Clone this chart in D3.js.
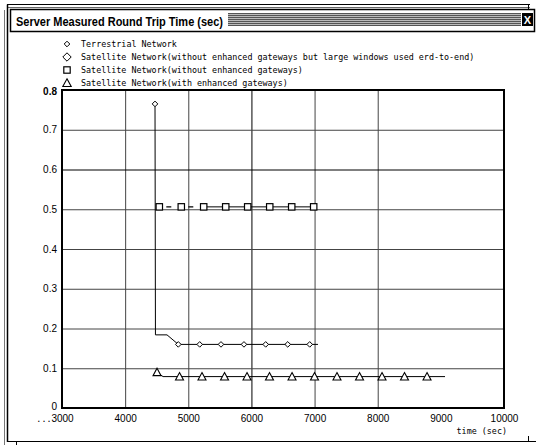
<!DOCTYPE html>
<html>
<head>
<meta charset="utf-8">
<script src="https://cdn.jsdelivr.net/npm/d3@7"></script>
<style>
  html, body { margin: 0; padding: 0; background: #fff; }
  svg { display: block; }
</style>
</head>
<body>
<svg id="chart" width="536" height="445"></svg>
<script>
// ---------------- data ----------------
const titleText = "Server Measured Round Trip Time (sec)";
const legendLabels = [
  "Terrestrial Network",
  "Satellite Network(without enhanced gateways but large windows used erd-to-end)",
  "Satellite Network(without enhanced gateways)",
  "Satellite Network(with enhanced gateways)"
];
const xAxisLabel = "time (sec)";
const xTickValues = [3000, 4000, 5000, 6000, 7000, 8000, 9000, 10000];
const xGridValues = [4000, 5000, 6000, 7000, 8000];
const yTickValues = [0, 0.1, 0.2, 0.3, 0.4, 0.5, 0.6, 0.7, 0.8];
const yGridValues = [0.1, 0.2, 0.3, 0.4, 0.5, 0.6, 0.7];

// Terrestrial Network (small diamonds)
const terrTime  = [4473, 4480, 4663, 4842, 5181, 5518, 5882, 6226, 6575, 6923, 7054];
const terrValue = [0.765, 0.184, 0.184, 0.160, 0.160, 0.160, 0.160, 0.160, 0.160, 0.160, 0.160];
const terrMarked = [0, 3, 4, 5, 6, 7, 8, 9];

// Satellite without enhanced gateways (squares)
const sqTime  = [4541, 4889, 5244, 5593, 5941, 6290, 6638, 6986];
const sqValue = [0.506, 0.506, 0.506, 0.506, 0.506, 0.506, 0.506, 0.506];

// Satellite with enhanced gateways (triangles)
const triTime  = [4505, 4600, 4861, 5217, 5574, 5930, 6286, 6643, 6999, 7355, 7712, 8068, 8424, 8781, 9066];
const triValue = [0.090, 0.079, 0.079, 0.079, 0.079, 0.079, 0.079, 0.079, 0.079, 0.079, 0.079, 0.079, 0.079, 0.079, 0.079];
const triMarked = [0, 2, 3, 4, 5, 6, 7, 8, 9, 10, 11, 12, 13];

// ---------------- drawing ----------------
const svg = d3.select("#chart");
const monoFont = "'DejaVu Sans Mono', 'Liberation Mono', monospace";
const sansFont = "'Liberation Sans', Arial, sans-serif";

// window chrome
const chrome = svg.append("g").attr("fill", "none").attr("stroke", "#000");
chrome.append("line").attr("x1", 7).attr("y1", 4.5).attr("x2", 530).attr("y2", 4.5);
chrome.append("line").attr("x1", 7).attr("y1", 7.5).attr("x2", 530).attr("y2", 7.5).attr("stroke", "#666");
chrome.append("line").attr("x1", 7.5).attr("y1", 4.5).attr("x2", 7.5).attr("y2", 442).attr("stroke-width", 1.5);
chrome.append("line").attr("x1", 4.5).attr("y1", 10).attr("x2", 4.5).attr("y2", 445).attr("stroke", "#777");
chrome.append("line").attr("x1", 7).attr("y1", 441.5).attr("x2", 536).attr("y2", 441.5).attr("stroke-width", 1.2);
chrome.append("line").attr("x1", 16.5).attr("y1", 441.5).attr("x2", 16.5).attr("y2", 445);
chrome.append("line").attr("x1", 528.5).attr("y1", 436).attr("x2", 528.5).attr("y2", 441.5);
chrome.append("line").attr("x1", 528.5).attr("y1", 4).attr("x2", 528.5).attr("y2", 9);
// title bar
chrome.append("rect").attr("x", 10.5).attr("y", 9.5).attr("width", 524).attr("height", 22)
  .attr("stroke-width", 1.5);

// stripes
const stripeG = svg.append("g");
const stripeRows = d3.range(13, 26);
stripeG.selectAll("line").data(stripeRows).join("line")
  .attr("x1", 228).attr("x2", 521)
  .attr("y1", d => d + 0.5).attr("y2", d => d + 0.5)
  .attr("stroke", (d, i) => i % 2 === 0 ? "#555" : "#bbb");
// close box
svg.append("rect").attr("x", 522).attr("y", 13).attr("width", 11).attr("height", 13).attr("fill", "#000");
svg.append("text").attr("x", 527.5).attr("y", 23.5).attr("text-anchor", "middle")
  .attr("font-family", sansFont).attr("font-weight", "bold").attr("font-size", 11)
  .attr("fill", "#fff").text("X");

svg.append("text").attr("x", 16).attr("y", 25.5)
  .attr("font-family", "'Liberation Sans Narrow', 'Liberation Sans', Arial, sans-serif")
  .attr("font-weight", "bold").attr("font-size", 13.5)
  .attr("textLength", 207).attr("lengthAdjust", "spacingAndGlyphs")
  .attr("fill", "#000").text(titleText);

// scales
const x = d3.scaleLinear().domain([3000, 10000]).range([62, 504]);
const y = d3.scaleLinear().domain([0, 0.8]).range([408, 90]);
const plotW = 504 - 62, plotH = 408 - 90;

// grid
const gridX = svg.append("g").attr("transform", "translate(0,408)")
  .call(d3.axisBottom(x).tickValues(xGridValues).tickSize(-plotH).tickFormat(""));
gridX.select(".domain").remove();
gridX.selectAll("line").attr("stroke", d => d === 6000 ? "#000" : "#444");

const gridY = svg.append("g").attr("transform", "translate(62,0)")
  .call(d3.axisLeft(y).tickValues(yGridValues).tickSize(-plotW).tickFormat(""));
gridY.select(".domain").remove();
gridY.selectAll("line").attr("stroke", d => Math.abs(d - 0.6) < 1e-9 ? "#000" : "#444");

// axis labels
const yAx = svg.append("g").attr("transform", "translate(62,0)")
  .call(d3.axisLeft(y).tickValues(yTickValues).tickSize(0).tickPadding(5)
    .tickFormat(d => d === 0 ? "0" : d.toFixed(1)));
yAx.select(".domain").remove();
yAx.selectAll("text").attr("font-family", sansFont).attr("font-size", 10).attr("fill", "#000")
  .attr("font-weight", d => d === 0.8 ? "bold" : "normal")
  .attr("dy", d => d === 0 ? "0.12em" : (d === 0.8 ? "0.45em" : "0.32em"));

const xAx = svg.append("g").attr("transform", "translate(0,408)")
  .call(d3.axisBottom(x).tickValues(xTickValues).tickSize(0).tickPadding(0)
    .tickFormat(d => String(d)));
xAx.select(".domain").remove();
xAx.selectAll("text").attr("font-family", sansFont).attr("font-size", 10).attr("fill", "#000")
  .attr("y", 0).attr("dy", "1.4em");
svg.append("text").attr("x", x(3000) - 10.5).attr("y", 422)
  .attr("text-anchor", "end")
  .attr("font-family", monoFont).attr("font-size", 8.4).attr("fill", "#000").text("...");

svg.append("text").attr("x", 507).attr("y", 433.5).attr("text-anchor", "end")
  .attr("font-family", monoFont).attr("font-size", 8.4).attr("fill", "#000").text(xAxisLabel);

// symbol generators
function diamond(g, cx, cy, r) {
  g.append("path").attr("d", `M${cx},${cy - r}L${cx + r},${cy}L${cx},${cy + r}L${cx - r},${cy}Z`)
    .attr("fill", "#fff").attr("stroke", "#000").attr("stroke-width", 1);
}
function square(g, cx, cy, r) {
  g.append("rect").attr("x", cx - r).attr("y", cy - r).attr("width", 2 * r).attr("height", 2 * r)
    .attr("fill", "#fff").attr("stroke", "#000").attr("stroke-width", 1.2);
}
function triangle(g, cx, cy, r) {
  g.append("path").attr("d", `M${cx},${cy - r}L${cx + r},${cy + r * 0.85}L${cx - r},${cy + r * 0.85}Z`)
    .attr("fill", "#fff").attr("stroke", "#000").attr("stroke-width", 1.1);
}

// data lines
const line = d3.line().x(d => x(d[0])).y(d => y(d[1]));
const plot = svg.append("g");

const terrPts = terrTime.map((t, i) => [t, terrValue[i]]);
plot.append("path").attr("d", line(terrPts)).attr("fill", "none").attr("stroke", "#000").attr("stroke-width", 1);

const sqPts = sqTime.map((t, i) => [t, sqValue[i]]);
plot.append("path").attr("d", line(sqPts.slice(0, 3))).attr("fill", "none").attr("stroke", "#000")
  .attr("stroke-width", 1.2).attr("stroke-dasharray", "0,7,5,10");
plot.append("path").attr("d", line(sqPts.slice(2))).attr("fill", "none").attr("stroke", "#000").attr("stroke-width", 1);

const triPts = triTime.map((t, i) => [t, triValue[i]]);
plot.append("path").attr("d", line(triPts)).attr("fill", "none").attr("stroke", "#000").attr("stroke-width", 1);

// markers
const mk = svg.append("g");
terrMarked.forEach(i => diamond(mk, x(terrTime[i]), y(terrValue[i]), 2.8));
sqPts.forEach(p => square(mk, x(p[0]), y(p[1]), 3.2));
triMarked.forEach(i => triangle(mk, x(triTime[i]), y(triValue[i]), 4));

// plot frame
svg.append("rect").attr("x", 62).attr("y", 90).attr("width", plotW).attr("height", plotH)
  .attr("fill", "none").attr("stroke", "#000").attr("stroke-width", 2);

// legend
const legendY = [44, 57, 70, 83];
const lg = svg.append("g");
legendLabels.forEach((lab, i) => {
  const cy = legendY[i];
  if (i === 0) diamond(lg, 67, cy, 2.8);
  if (i === 1) diamond(lg, 67, cy, 4.2);
  if (i === 2) square(lg, 67, cy, 3.2);
  if (i === 3) triangle(lg, 67, cy, 4.2);
  lg.append("text").attr("x", 81).attr("y", cy + 3)
    .attr("font-family", monoFont).attr("font-size", 8.4).attr("fill", "#000").text(lab);
});
</script>
</body>
</html>
